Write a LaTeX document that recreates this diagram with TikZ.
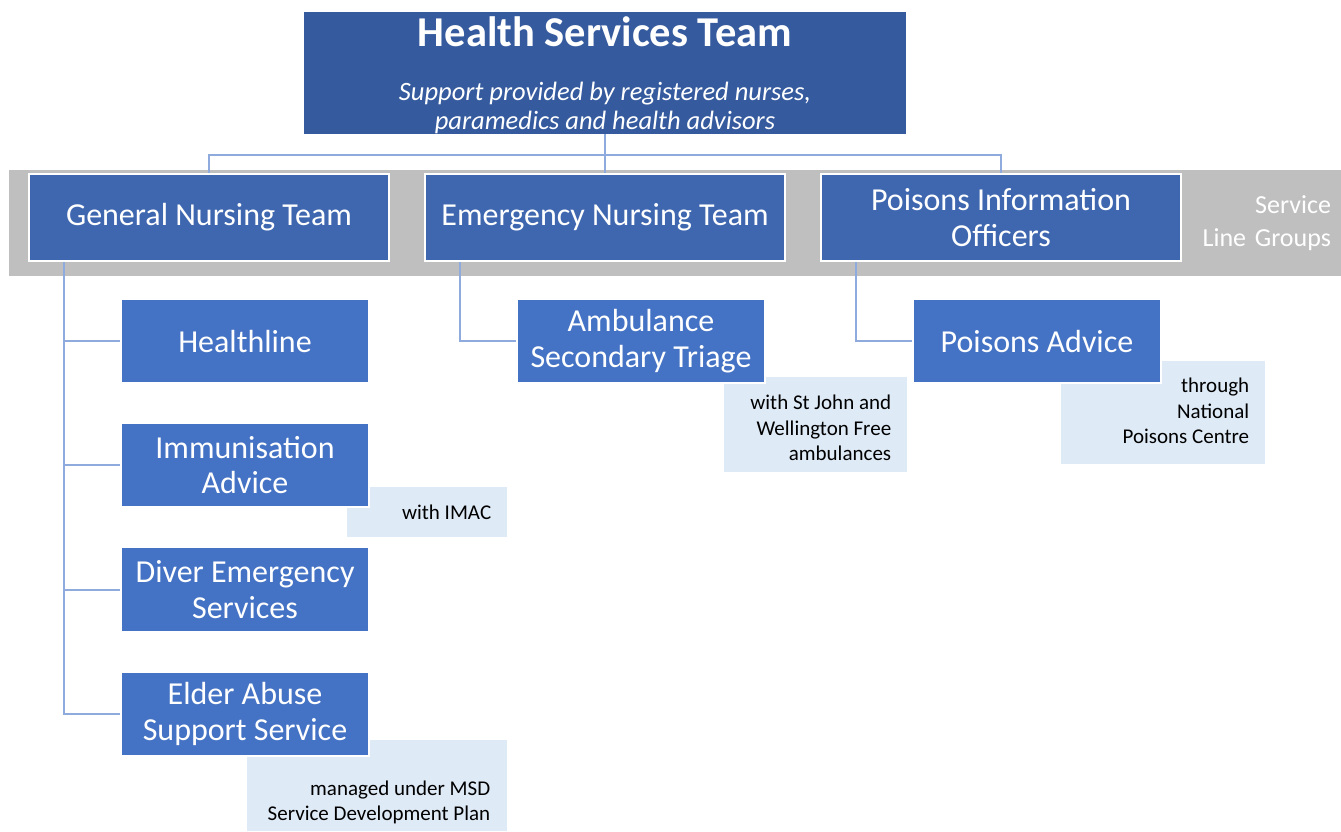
\documentclass[tikz,border=0pt]{standalone}
\usepackage{fontspec}
\setmainfont{Carlito}
\usetikzlibrary{calc}
\definecolor{headblue}{HTML}{355A9E}
\definecolor{teamblue}{HTML}{3F67B0}
\definecolor{svcblue}{HTML}{4472C4}
\definecolor{notefill}{HTML}{DEEAF6}
\definecolor{bandgray}{HTML}{BFBFBF}
\definecolor{linkblue}{HTML}{8FAADC}
\tikzset{
  team/.style={draw=white, line width=2pt, fill=teamblue, text=white,
    minimum width=360pt, minimum height=87pt, inner sep=0pt, align=center,
    font=\fontsize{32}{35.5}\selectfont},
  svc/.style={draw=white, line width=1.5pt, fill=svcblue, text=white,
    minimum width=248pt, minimum height=84pt, inner sep=0pt, align=center,
    font=\fontsize{32}{35.5}\selectfont},
  notebox/.style={fill=notefill, inner sep=0pt, anchor=north west},
  notetext/.style={anchor=east, align=right, inner sep=0pt,
    font=\fontsize{21}{25.5}\selectfont},
  headtext/.style={anchor=base, inner sep=0pt, text=white},
  link/.style={draw=linkblue, line width=2pt}
}
\begin{document}
\begin{tikzpicture}[x=1pt, y=-1pt]
\useasboundingbox (0,0) rectangle (1341,831);
\fill[white] (0,0) rectangle (1341,831);

% grey band behind the service line groups
\node[fill=bandgray, minimum height=106pt, text width=1312pt, inner xsep=10pt,
  inner ysep=0pt, align=right, text=white, font=\fontsize{26}{33}\selectfont]
  (band) at (675,223) {Service\\Line Groups};

% head of the team
\node[fill=headblue, minimum width=602pt, minimum height=122pt, inner sep=0pt]
  (head) at (605,73) {};
\node[headtext, font=\fontsize{42.5}{44}\selectfont\bfseries]
  (title) at ($(head.north)+(0,35)$) {Health Services Team};
\node[headtext, font=\fontsize{26.5}{29}\selectfont\itshape]
  (sub1) at ($(head.north)+(0,89)$) {Support provided by registered nurses,};
\node[headtext, font=\fontsize{26.5}{29}\selectfont\itshape]
  (sub2) at ($(head.north)+(0,117.5)$) {paramedics and health advisors};

% team level nodes
\node[team] (gen) at (209,217.5) {General Nursing Team};
\node[team] (emg) at (605,217.5) {Emergency Nursing Team};
\node[team] (poi) at (1001,217.5) {Poisons Information\\Officers};

% notes (drawn below the service boxes)
\node[notebox, minimum width=160pt, minimum height=50pt] (imac) at (347,487) {};
\node[notebox, minimum width=260pt, minimum height=91pt] (msd) at (247,740) {};
\node[notebox, minimum width=183pt, minimum height=95pt] (stj) at (724,377) {};
\node[notebox, minimum width=204pt, minimum height=103pt] (thr) at (1061,361) {};
\node[notetext] at ($(imac.north east)+(-16,25)$) {with IMAC};
\node[notetext] at ($(msd.north east)+(-17,62.5)$) {managed under MSD\\Service Development Plan};
\node[notetext] at ($(stj.north east)+(-16,51)$) {with St John and\\Wellington Free\\ambulances};
\node[notetext] at ($(thr.north east)+(-16,50)$) {through\\National\\Poisons Centre};

% service nodes
\node[svc] (health) at (245,341) {Healthline};
\node[svc] (immun) at (245,465) {Immunisation\\Advice};
\node[svc] (diver) at (245,589.5) {Diver Emergency\\Services};
\node[svc] (elder) at (245,714) {Elder Abuse\\Support Service};
\node[svc] (amb) at (641,341) {Ambulance\\Secondary Triage};
\node[svc] (padv) at (1037,341) {Poisons Advice};

% connectors
\draw[link] (head.south) -- ++(0,21) coordinate (bus);
\draw[link] (bus) -| (gen.north);
\draw[link] (bus) -- (emg.north);
\draw[link] (bus) -| (poi.north);
\draw[link] ($(gen.south west)+(36,0)$) coordinate (g0) |- (elder.west);
\draw[link] (g0) |- (health.west);
\draw[link] (g0) |- (immun.west);
\draw[link] (g0) |- (diver.west);
\draw[link] ($(emg.south west)+(36,0)$) |- (amb.west);
\draw[link] ($(poi.south west)+(36,0)$) |- (padv.west);
\end{tikzpicture}
\end{document}
